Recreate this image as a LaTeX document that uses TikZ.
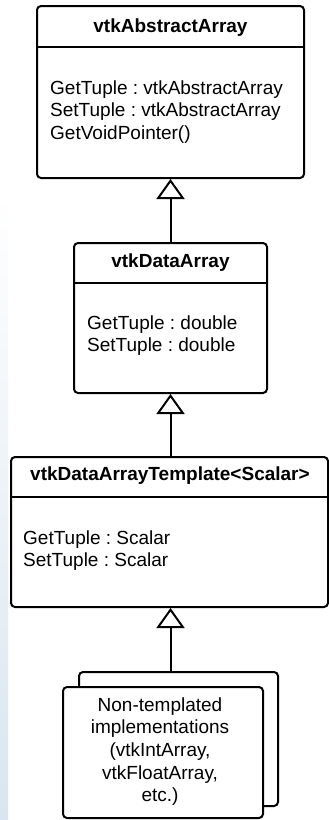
\documentclass[tikz,border=0pt]{standalone}
\usepackage{fontspec}
\setmainfont{Liberation Sans}
\usetikzlibrary{arrows.meta}
\frenchspacing

\definecolor{edgeblue}{RGB}{217,229,240}

\tikzset{
  classbox/.style={draw=black, line width=2pt, rounded corners=4pt, fill=white,
                   inner sep=0pt, minimum width=#1},
  rule/.style={draw=black, line width=2pt},
  classname/.style={font=\fontsize{19}{22.5}\selectfont\bfseries, inner sep=0pt, anchor=base},
  member/.style={font=\fontsize{19}{22.5}\selectfont, inner sep=0pt, anchor=base west},
  note/.style={font=\fontsize{19}{22.7}\selectfont, inner sep=0pt, anchor=base},
  inherit/.style={draw=black, line width=2pt,
                  -{Triangle[length=20pt, width=28pt, fill=white, line width=2pt]}}
}

\begin{document}
\begin{tikzpicture}[x=1pt, y=-1pt]
  \useasboundingbox (0,0) rectangle (329,820);
  \fill[white] (0,0) rectangle (329,820);

  % faint blue strip along the left edge
  \shade[top color=white, bottom color=edgeblue] (0,192) rectangle (8,820);

  % ---- vtkAbstractArray ----
  \node[classbox=267pt, minimum height=172pt] (abs) at (170.5,92) {};
  \coordinate (absh) at (0,47);
  \draw[rule] (abs.west |- absh) -- (abs.east |- absh);
  \node[classname] (abs-name) at (170.5,32) {vtkAbstractArray};
  \node[member] (abs-m1) at (50,94) {GetTuple : vtkAbstractArray};
  \node[member] (abs-m2) at (50,116.5) {SetTuple : vtkAbstractArray};
  \node[member] (abs-m3) at (50,139) {GetVoidPointer()};

  % ---- vtkDataArray ----
  \node[classbox=193pt, minimum height=150pt] (dat) at (170.5,318) {};
  \coordinate (dath) at (0,283);
  \draw[rule] (dat.west |- dath) -- (dat.east |- dath);
  \node[classname] (dat-name) at (170.5,267) {vtkDataArray};
  \node[member] (dat-m1) at (87,329) {GetTuple : double};
  \node[member] (dat-m2) at (87,351.5) {SetTuple : double};

  % ---- vtkDataArrayTemplate<Scalar> ----
  \node[classbox=317pt, minimum height=150pt] (tpl) at (169.5,532) {};
  \coordinate (tplh) at (0,497);
  \draw[rule] (tpl.west |- tplh) -- (tpl.east |- tplh);
  \node[classname] (tpl-name) at (170,480) {vtkDataArrayTemplate<Scalar>};
  \node[member] (tpl-m1) at (23,544) {GetTuple : Scalar};
  \node[member] (tpl-m2) at (23,566.5) {SetTuple : Scalar};

  % ---- stacked implementation boxes ----
  \node[classbox=199pt, minimum height=134pt] (back) at (178.5,739) {};
  \node[classbox=200pt, minimum height=131pt] (impl) at (163,752.5) {};
  \node[note] (impl-l1) at (160,711) {Non-templated};
  \node[note] (impl-l2) at (160,733.7) {implementations};
  \node[note] (impl-l3) at (160,756.4) {(vtkIntArray,};
  \node[note] (impl-l4) at (160,779) {vtkFloatArray,};
  \node[note] (impl-l5) at (160,801.8) {etc.)};

  % ---- generalisation arrows ----
  \draw[inherit] (dat.north) -- (abs.south);
  \draw[inherit] (tpl.north -| dat.north) -- (dat.south);
  \draw[inherit] (back.north -| dat.north) -- (tpl.south -| dat.north);
\end{tikzpicture}
\end{document}
